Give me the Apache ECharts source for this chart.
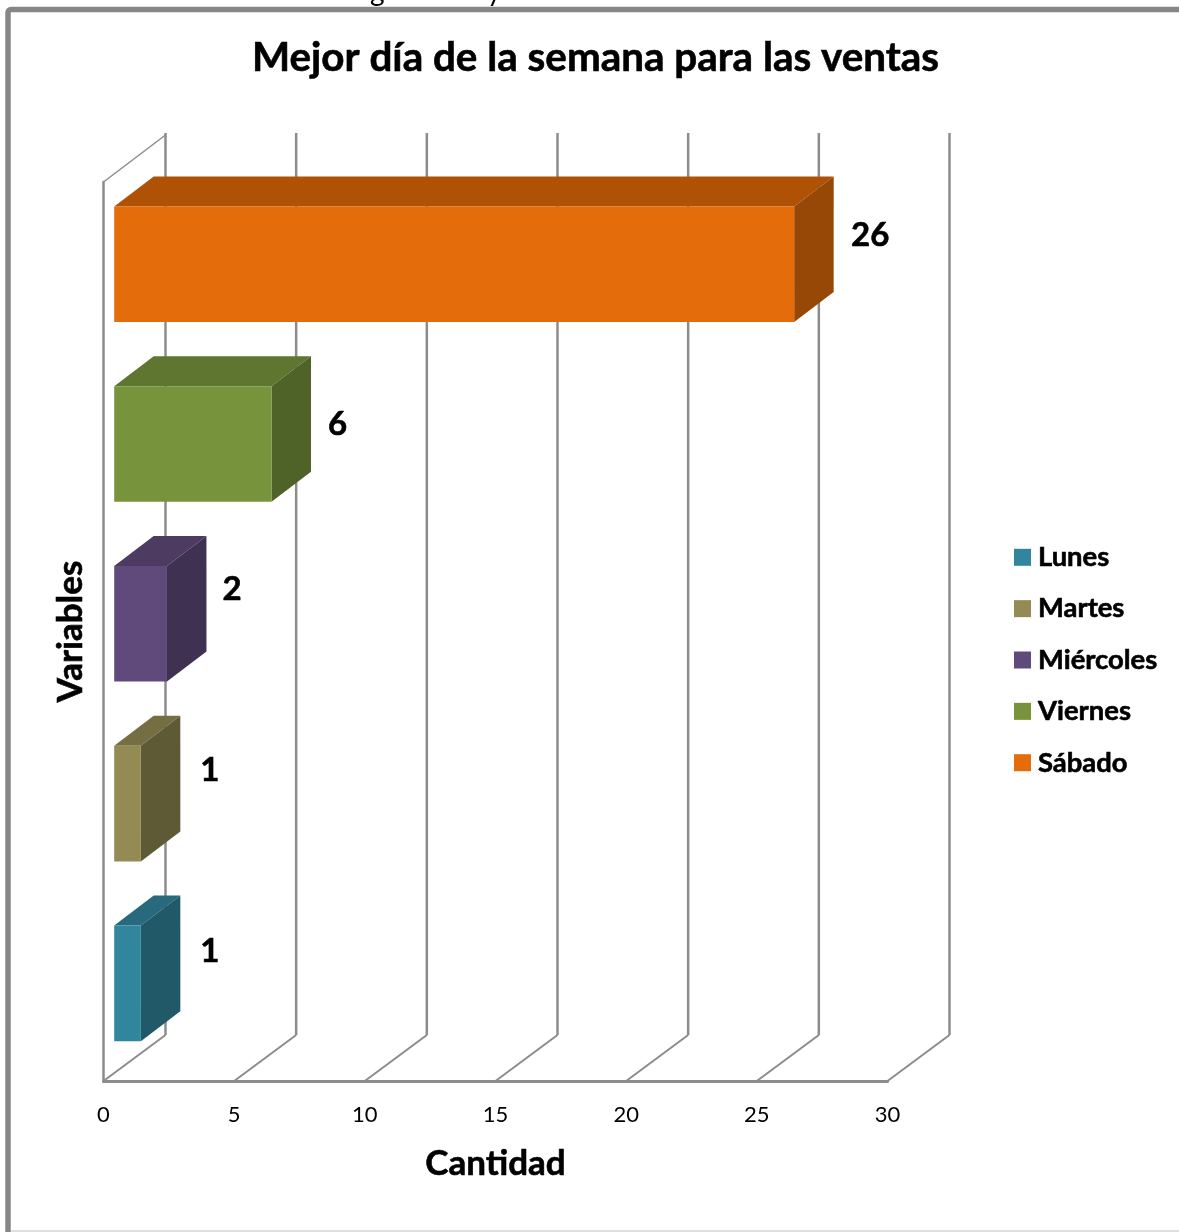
<!DOCTYPE html>
<html>
<head>
<meta charset="utf-8">
<style>html,body{margin:0;padding:0;background:#fff}#c{width:1179px;height:1232px}</style>
<script src="https://cdn.jsdelivr.net/npm/echarts@6/dist/echarts.min.js"></script>
</head>
<body>
<div id="c"></div>
<script>
var categories = ['Lunes', 'Martes', 'Miércoles', 'Viernes', 'Sábado'];
var values = [1, 1, 2, 6, 26];
var axisTicks = [0, 5, 10, 15, 20, 25, 30];
var titleText = 'Mejor día de la semana para las ventas';
var xName = 'Cantidad';
var yName = 'Variables';

// styles, kept apart from data
var frontColors = ['#31859C', '#948A54', '#604A7B', '#77933C', '#E46C0A'];
var topColors   = ['#276A7D', '#766E43', '#4D3B62', '#5F7630', '#B05206'];
var sideColors  = ['#215968', '#5F5A36', '#3F3151', '#4F6228', '#974706'];
var labelNudges = [[69,-32.5],[69,-33.5],[65,-34.5],[66,-19.5],[76,-28.5]];
var FONT = 'Lato, "Open Sans", sans-serif';
var LINE = '#8C8C8C';
var wallDx = 62, wallDy = -47, barDx = 39.5, barDy = -30, barInX = 10.7, barInY = -7.7;
var heavy = {textBorderColor:'#000', textBorderWidth:0.6};

function wallItem(params, api) {
  var t = api.value(0);
  var cs = params.coordSys;
  var x = api.coord([t, 0])[0];
  var bottom = cs.y + cs.height, top = cs.y;
  var children = [
    {type:'line', shape:{x1:x, y1:bottom, x2:x + wallDx, y2:bottom + wallDy + 1}, style:{stroke:LINE, lineWidth:2}},
    {type:'line', shape:{x1:x + wallDx, y1:bottom + wallDy + 1, x2:x + wallDx, y2:top + wallDy - 2}, style:{stroke:LINE, lineWidth:2.5}}
  ];
  if (t === 0) {
    children.push({type:'line', shape:{x1:x, y1:top, x2:x + wallDx, y2:top + wallDy}, style:{stroke:LINE, lineWidth:1.5}});
  }
  return {type:'group', children:children};
}

function barItem(params, api) {
  var v = api.value(0), idx = api.value(1);
  var origin = api.coord([0, idx]);
  var end = api.coord([v, idx]);
  var h = api.size([0, 1])[1] * 0.643;
  var x0 = origin[0] + barInX, x1 = end[0] + barInX + 0.5;
  var y0 = end[1] + barInY - h / 2, y1 = y0 + h;
  var n = labelNudges[idx];
  return {type:'group', children:[
    {type:'polygon', shape:{points:[[x0,y0],[x0+barDx,y0+barDy],[x1+barDx,y0+barDy],[x1,y0]]}, style:{fill:topColors[idx]}},
    {type:'polygon', shape:{points:[[x1,y0],[x1+barDx,y0+barDy],[x1+barDx,y1+barDy],[x1,y1]]}, style:{fill:sideColors[idx]}},
    {type:'rect', shape:{x:x0, y:y0, width:x1-x0, height:h}, style:{fill:frontColors[idx]}},
    {type:'text', x:x1+n[0], y:end[1]+barInY+n[1], style:{text:String(v), fill:'#000', stroke:'#000', lineWidth:0.6, font:'bold 33px '+FONT, align:'center', verticalAlign:'middle'}}
  ]};
}

var series = [{
  type:'custom', name:'walls', silent:true, z:1, renderItem:wallItem,
  coordinateSystem:'cartesian2d', encode:{x:0},
  data: axisTicks.map(function(t){return [t];})
}];
categories.forEach(function(c, i){
  series.push({
    type:'custom', name:c, z:3, renderItem:barItem,
    coordinateSystem:'cartesian2d', encode:{x:0, y:1},
    itemStyle:{color:frontColors[i]},
    data:[[values[i], i]]
  });
});

var chart = echarts.init(document.getElementById('c'), null, {renderer:'canvas'});
chart.setOption({
  animation:false,
  backgroundColor:'#fff',
  title:{text:titleText, left:590.5, top:33, textAlign:'center',
    textStyle:Object.assign({fontFamily:FONT, fontWeight:'bold', fontSize:40.4, color:'#000'}, heavy)},
  legend:{
    data:categories, orient:'vertical', left:1014, top:543.5, padding:0,
    itemWidth:17, itemHeight:17, itemGap:23.75, icon:'rect', selectedMode:false,
    textStyle:Object.assign({fontFamily:FONT, fontWeight:'bold', fontSize:27.4, color:'#000', padding:[0,0,0,2]}, heavy)
  },
  grid:{left:103.5, right:291.5, top:182, bottom:151},
  xAxis:{
    type:'value', min:0, max:30, interval:5,
    name:xName, nameLocation:'middle', nameGap:65,
    nameTextStyle:Object.assign({fontFamily:FONT, fontWeight:'bold', fontSize:35, color:'#000'}, heavy),
    axisLine:{show:true, lineStyle:{color:LINE, width:3}},
    axisTick:{show:false}, splitLine:{show:false},
    axisLabel:{fontFamily:FONT, fontSize:22, color:'#000', margin:23}
  },
  yAxis:{
    type:'category', data:categories,
    name:yName, nameLocation:'middle', nameGap:15, nameRotate:90,
    nameTextStyle:Object.assign({fontFamily:FONT, fontWeight:'bold', fontSize:35, color:'#000'}, heavy),
    axisLine:{show:true, lineStyle:{color:LINE, width:2.5}},
    axisTick:{show:false}, axisLabel:{show:false}, splitLine:{show:false}
  },
  graphic:[
    {type:'rect', z:0, shape:{x:8, y:9.5, width:1300, height:1400, r:3}, style:{fill:null, stroke:'#868686', lineWidth:5.5}},
    {type:'line', z:0, shape:{x1:11, y1:1231, x2:1179, y2:1231}, style:{stroke:'#E0E0E0', lineWidth:2}},
    {type:'text', z:0, x:370, y:-22, style:{text:'g', fill:'#000', font:'28px '+FONT}},
    {type:'text', z:0, x:487, y:-22, style:{text:'y', fill:'#000', font:'28px '+FONT}}
  ],
  series:series
});
</script>
</body>
</html>
